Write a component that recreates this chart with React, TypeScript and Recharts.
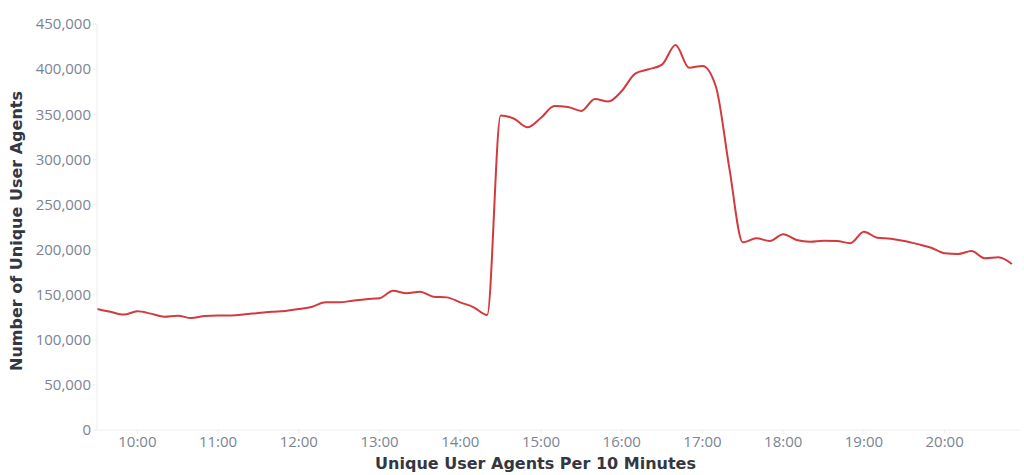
import React from 'react';
import { LineChart, Line, XAxis, YAxis, Label } from 'recharts';

const timeLabels = [
  '09:30', '09:40', '09:50',
  '10:00', '10:10', '10:20', '10:30', '10:40', '10:50',
  '11:00', '11:10', '11:20', '11:30', '11:40', '11:50',
  '12:00', '12:10', '12:20', '12:30', '12:40', '12:50',
  '13:00', '13:10', '13:20', '13:30', '13:40', '13:50',
  '14:00', '14:10', '14:20', '14:30', '14:40', '14:50',
  '15:00', '15:10', '15:20', '15:30', '15:40', '15:50',
  '16:00', '16:10', '16:20', '16:30', '16:40', '16:50',
  '17:00', '17:10', '17:20', '17:30', '17:40', '17:50',
  '18:00', '18:10', '18:20', '18:30', '18:40', '18:50',
  '19:00', '19:10', '19:20', '19:30', '19:40', '19:50',
  '20:00', '20:10', '20:20', '20:30', '20:40', '20:50',
];

const uniqueUserAgents = [
  134000, 131000, 128000,
  131500, 129000, 125600, 126700, 124000, 126400,
  127000, 127000, 128200, 129700, 131000, 132000,
  134000, 136700, 141500, 141500, 143300, 145000,
  146000, 154400, 151500, 153300, 147800, 147000,
  141500, 136000, 127500, 348500, 345000, 335500,
  346000, 359000, 358000, 353600, 367000, 364000,
  375700, 395000, 399800, 405000, 426700, 401600,
  403500, 380500, 290000, 208000, 212500, 209500,
  217000, 210600, 208700, 209800, 209500, 207000,
  219800, 213000, 212000, 209500, 206000, 202000,
  195800, 195000, 198400, 190300, 191400, 184000,
];

const xTickLabels = ['10:00', '11:00', '12:00', '13:00', '14:00', '15:00', '16:00', '17:00', '18:00', '19:00', '20:00'];
const yTicks = [0, 50000, 100000, 150000, 200000, 250000, 300000, 350000, 400000, 450000];

const toMinutes = (s: string) => {
  const [h, m] = s.split(':').map(Number);
  return h * 60 + m;
};
const fromMinutes = (v: number) => {
  const h = Math.floor(v / 60);
  const m = v % 60;
  return `${h}:${m < 10 ? '0' + m : m}`;
};

const data = timeLabels.map((t, i) => ({ t: toMinutes(t), v: uniqueUserAgents[i] }));

const FONT = '"Open Sans", sans-serif';
const TITLE_FONT = '"DejaVu Sans", sans-serif';
const TICK_COLOR = '#7b8494';
const AXIS_COLOR = '#eceef2';
const TITLE_COLOR = '#343741';

export default function App() {
  return (
    <div style={{ position: 'absolute', left: 0, top: 0, width: 1024, height: 475, background: '#fff' }}>
      <LineChart width={1024} height={475} data={data} margin={{ top: 24, right: 4, bottom: 15, left: 0 }}>
        <XAxis
          dataKey="t"
          type="number"
          height={30}
          domain={[570, 1256]}
          ticks={xTickLabels.map(toMinutes)}
          tickFormatter={(v: number) => fromMinutes(v)}
          stroke={AXIS_COLOR}
          tickSize={4}
          tickMargin={2}
          tick={{ fill: TICK_COLOR, fontSize: 15, fontFamily: FONT }}
          allowDataOverflow
        >
          <Label
            value="Unique User Agents Per 10 Minutes"
            position="bottom"
            offset={-2}
            dx={-23}
            style={{ fill: TITLE_COLOR, fontSize: 16, fontWeight: 700, fontFamily: TITLE_FONT }}
          />
        </XAxis>
        <YAxis
          type="number"
          width={97}
          domain={[0, 450000]}
          ticks={yTicks}
          tickFormatter={(v: number) => v.toLocaleString('en-US')}
          stroke={AXIS_COLOR}
          tickSize={4}
          tickMargin={2}
          tick={{ fill: TICK_COLOR, fontSize: 15, fontFamily: FONT }}
        >
          <Label
            value="Number of Unique User Agents"
            angle={-90}
            position="insideLeft"
            offset={0}
            dx={16}
            dy={4}
            style={{ fill: TITLE_COLOR, fontSize: 16, fontWeight: 700, fontFamily: TITLE_FONT, textAnchor: 'middle' }}
          />
        </YAxis>
        <Line
          type="monotone"
          dataKey="v"
          stroke="#d23a3e"
          strokeWidth={2}
          dot={false}
          isAnimationActive={false}
        />
      </LineChart>
    </div>
  );
}
